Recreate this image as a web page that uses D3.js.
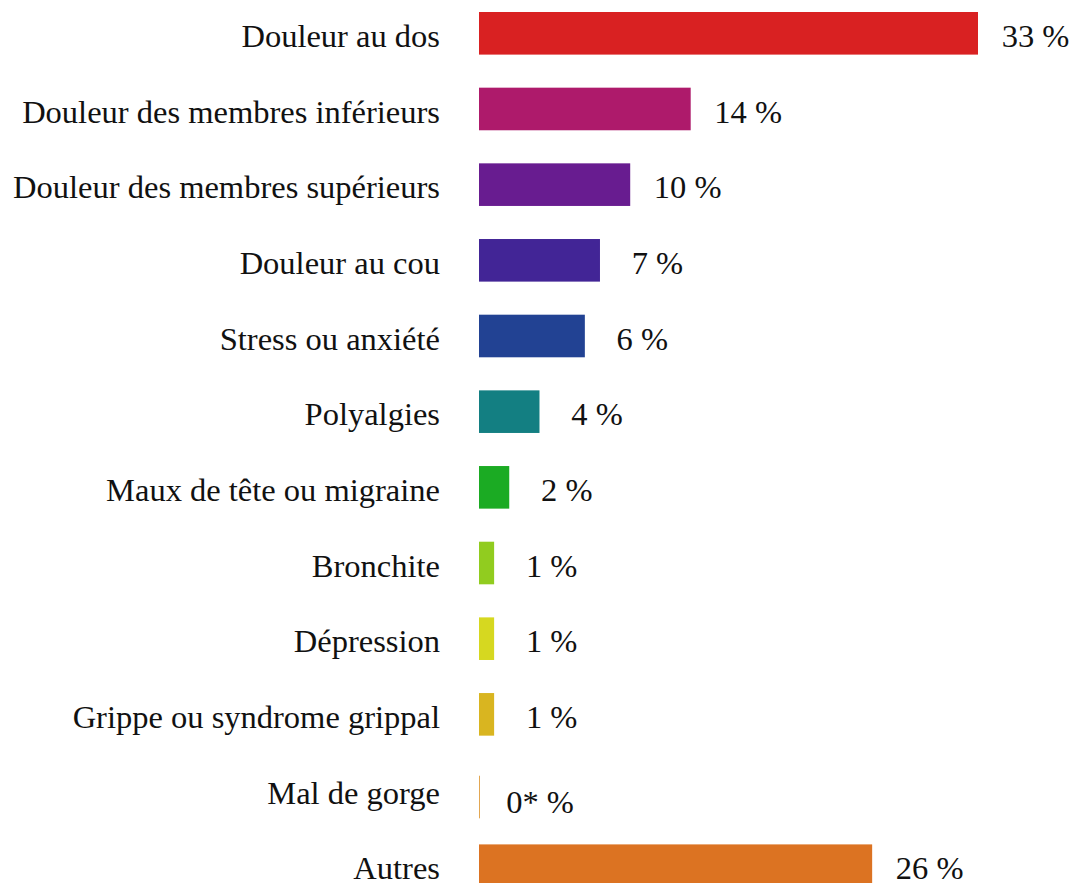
<!DOCTYPE html>
<html>
<head>
<meta charset="utf-8">
<script src="https://cdn.jsdelivr.net/npm/d3@7"></script>
<style>
  body { margin: 0; background: #fff; }
  svg text { font-family: "Liberation Serif", "Times New Roman", serif; font-size: 32.5px; fill: #111; }
</style>
</head>
<body>
<svg id="chart" width="1071" height="883"></svg>
<script>
// categories, top to bottom
var categories = [
  "Douleur au dos",
  "Douleur des membres inférieurs",
  "Douleur des membres supérieurs",
  "Douleur au cou",
  "Stress ou anxiété",
  "Polyalgies",
  "Maux de tête ou migraine",
  "Bronchite",
  "Dépression",
  "Grippe ou syndrome grippal",
  "Mal de gorge",
  "Autres"
];
// bar lengths
var values = [33, 14, 10, 8, 7, 4, 2, 1, 1, 1, 0, 26];
// printed labels
var valueLabels = ["33 %", "14 %", "10 %", "7 %", "6 %", "4 %", "2 %", "1 %", "1 %", "1 %", "0* %", "26 %"];
var colors = ["#d92122", "#ae1a6b", "#681c90", "#422596", "#224293", "#137f82",
              "#1bab23", "#91cc1f", "#d6d820", "#d9b520", "#e3a752", "#dc7322"];

var rows = categories.map(function(c, i) {
  return { cat: c, value: values[i], label: valueLabels[i], color: colors[i] };
});

var svg = d3.select("#chart");

var x = d3.scaleLinear().domain([0, 33]).range([479, 978]);
var y = d3.scaleBand().domain(categories).range([12, 887]).paddingInner(0.437).paddingOuter(0);

// zero bars are drawn as a hairline, slightly lower
var zeroShift = 7;

svg.selectAll("rect.bar")
  .data(rows)
  .enter()
    .append("rect")
    .attr("class", "bar")
    .attr("x", x(0))
    .attr("y", function(d) { return y(d.cat) + (d.value === 0 ? zeroShift : 0); })
    .attr("width", function(d) { return d.value === 0 ? 1 : x(d.value) - x(0); })
    .attr("height", y.bandwidth())
    .attr("fill", function(d) { return d.color; });

// category labels
svg.selectAll("text.cat")
  .data(rows)
  .enter()
    .append("text")
    .attr("class", "cat")
    .attr("x", 440)
    .attr("y", function(d) { return y(d.cat) + 35; })
    .attr("text-anchor", "end")
    .text(function(d) { return d.cat; });

// value labels, centred a fixed distance after the bar end
svg.selectAll("text.val")
  .data(rows)
  .enter()
    .append("text")
    .attr("class", "val")
    .attr("x", function(d) { return x(d.value) + (d.value === 0 ? 61 : 57.5); })
    .attr("y", function(d) { return y(d.cat) + 35 + (d.value === 0 ? 9 : 0); })
    .attr("text-anchor", "middle")
    .text(function(d) { return d.label; });
</script>
</body>
</html>
